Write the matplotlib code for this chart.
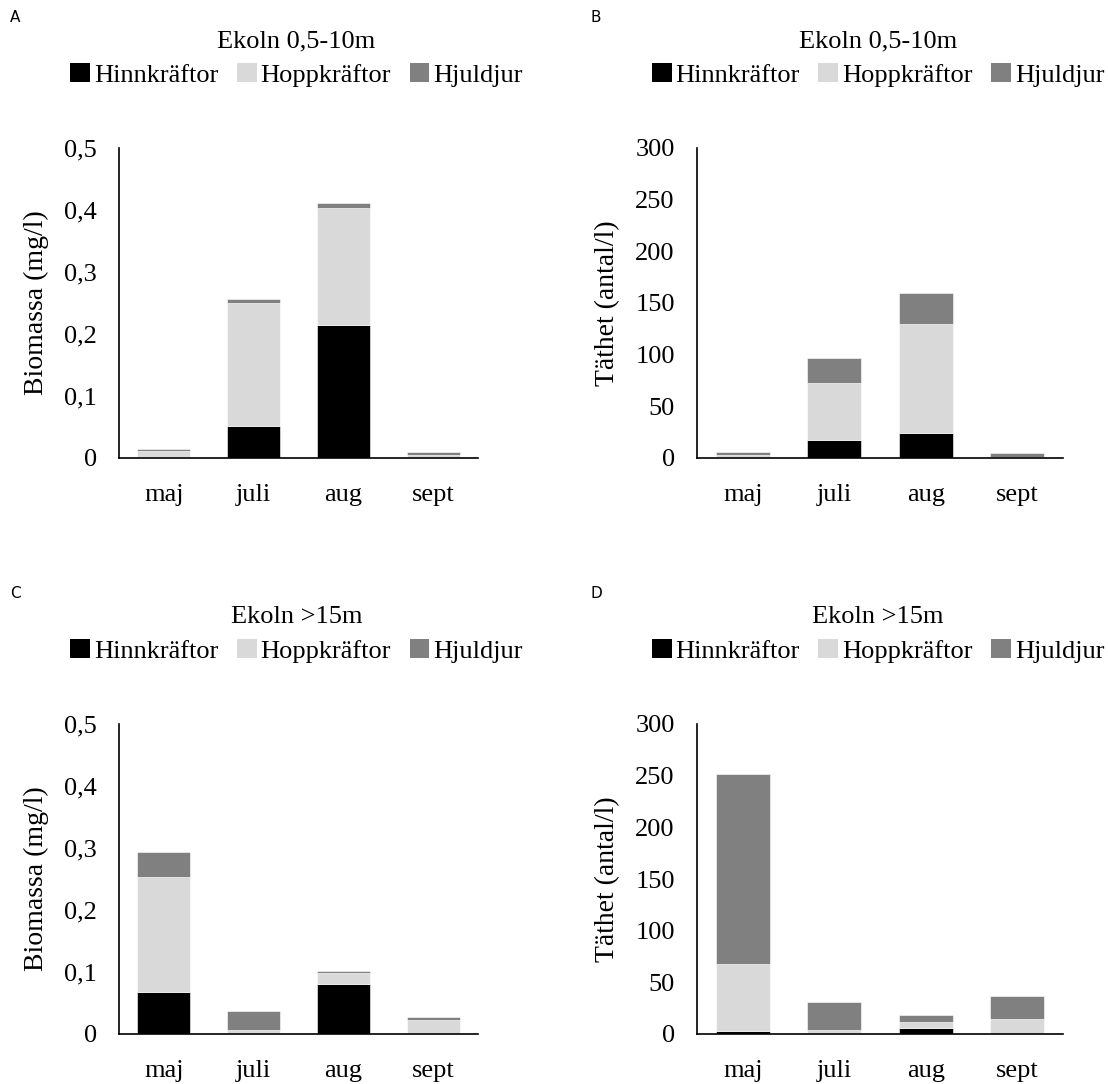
import matplotlib
matplotlib.use("Agg")
import matplotlib.pyplot as plt
from matplotlib.patches import Patch

# data
months = ["maj", "juli", "aug", "sept"]
groups = ["Hinnkräftor", "Hoppkräftor", "Hjuldjur"]
colors = ["#000000", "#d9d9d9", "#808080"]

# A: biomassa 0,5-10m
bio_top_hinn = [0.001, 0.051, 0.215, 0.001]
bio_top_hopp = [0.010, 0.199, 0.189, 0.004]
bio_top_hjul = [0.004, 0.006, 0.008, 0.004]
# B: täthet 0,5-10m
tat_top_hinn = [0.5, 17, 24, 0.3]
tat_top_hopp = [2, 56, 106, 1]
tat_top_hjul = [3, 24, 30, 3.3]
# C: biomassa >15m
bio_deep_hinn = [0.067, 0.001, 0.080, 0.001]
bio_deep_hopp = [0.186, 0.005, 0.018, 0.022]
bio_deep_hjul = [0.041, 0.031, 0.004, 0.004]
# D: täthet >15m
tat_deep_hinn = [2.5, 0.5, 5.8, 0.3]
tat_deep_hopp = [65.5, 3.5, 5.8, 14]
tat_deep_hjul = [184, 27.4, 6.4, 22]

bio_ticks = [0, 0.1, 0.2, 0.3, 0.4, 0.5]
bio_labels = ["0", "0,1", "0,2", "0,3", "0,4", "0,5"]
tat_ticks = [0, 50, 100, 150, 200, 250, 300]
tat_labels = ["0", "50", "100", "150", "200", "250", "300"]

W, H = 1108, 1084
fig = plt.figure(figsize=(W / 100, H / 100), dpi=100)
plt.rcParams['font.family'] = 'Liberation Serif'
FS = 19

panels = [
    ("A", "Ekoln 0,5-10m", (bio_top_hinn, bio_top_hopp, bio_top_hjul), "Biomassa (mg/l)", bio_ticks, bio_labels, 119, 148),
    ("B", "Ekoln 0,5-10m", (tat_top_hinn, tat_top_hopp, tat_top_hjul), "Täthet (antal/l)", tat_ticks, tat_labels, 697, 148),
    ("C", "Ekoln >15m", (bio_deep_hinn, bio_deep_hopp, bio_deep_hjul), "Biomassa (mg/l)", bio_ticks, bio_labels, 119, 724),
    ("D", "Ekoln >15m", (tat_deep_hinn, tat_deep_hopp, tat_deep_hjul), "Täthet (antal/l)", tat_ticks, tat_labels, 697, 724),
]

for letter, title, series, ylabel, ticks, labels, left, top in panels:
    width = 359 if left < 500 else 366
    height = 310
    ax = fig.add_axes([left / W, 1 - (top + height) / H, width / W, height / H])
    x = range(len(months))
    bottom = [0] * len(months)
    for vals, c in zip(series, colors):
        ax.bar(x, vals, bottom=bottom, width=0.59, color=c, edgecolor="white", linewidth=0.4)
        bottom = [b + v for b, v in zip(bottom, vals)]
    ax.set_xlim(-0.5, 3.5)
    ax.set_ylim(ticks[0], ticks[-1])
    ax.set_yticks(ticks)
    ax.set_yticklabels(labels)
    ax.set_xticks(list(x))
    ax.set_xticklabels(months)
    ax.tick_params(length=0, labelsize=FS)
    ax.tick_params(axis="y", pad=16)
    ax.tick_params(axis="x", pad=19)
    for s in ["top", "right"]:
        ax.spines[s].set_visible(False)
    ax.spines["left"].set_linewidth(1.2)
    ax.spines["bottom"].set_linewidth(1.2)
    ax.set_ylabel(ylabel, fontsize=20, labelpad=11)

    cx = (left + width / 2 - 2) / W
    fig.text(cx, 1 - (top - 107) / H, title, ha="center", va="center", fontsize=FS)
    handles = [Patch(facecolor=c, edgecolor="none") for c in colors]
    fig.legend(handles, groups, loc="center", bbox_to_anchor=(cx, 1 - (top - 73) / H),
               ncol=3, frameon=False, fontsize=FS, handlelength=0.75, handleheight=0.75,
               handletextpad=0.15, columnspacing=0.7, borderpad=0)
    lx = 10 if left < 500 else 590
    fig.text(lx / W, 1 - (top - 130) / H, letter, ha="left", va="center",
             fontsize=11, family="DejaVu Sans")

fig.savefig("out.png", dpi=100)
